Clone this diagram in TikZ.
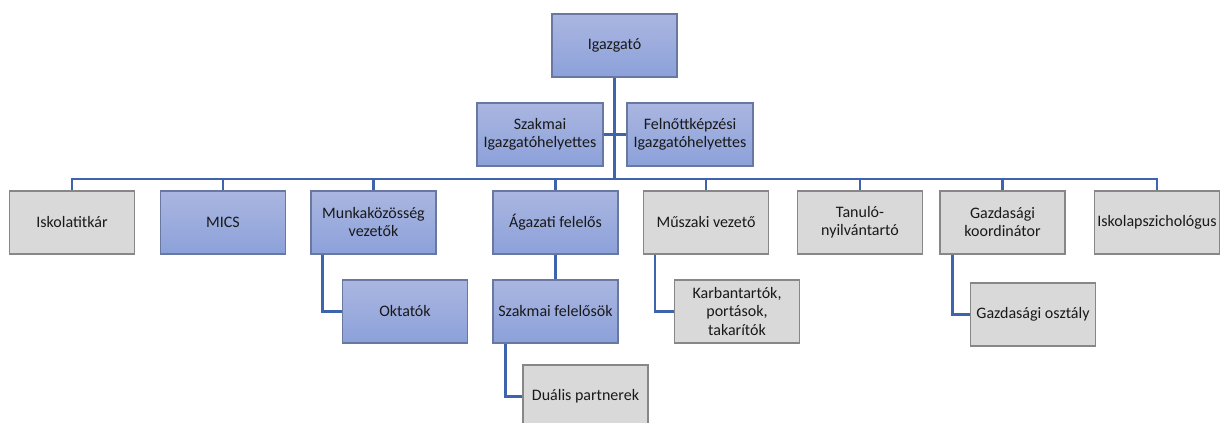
\documentclass[tikz,border=0pt]{standalone}
\usepackage{fontspec}
\setmainfont{Carlito}
\usetikzlibrary{calc}
\definecolor{bluetop}{RGB}{170,182,224}
\definecolor{bluebot}{RGB}{140,161,218}
\definecolor{blueedge}{RGB}{105,120,160}
\definecolor{grayfill}{RGB}{217,217,217}
\definecolor{grayedge}{RGB}{135,135,135}
\definecolor{conn}{RGB}{62,100,173}
\tikzset{
  box/.style={minimum width=125pt, minimum height=63pt, inner sep=1pt, align=center,
    font=\fontsize{16}{18}\selectfont, text=black!90, line width=1.2pt},
  bluebox/.style={box, top color=bluetop, bottom color=bluebot, draw=blueedge},
  graybox/.style={box, fill=grayfill, draw=grayedge},
  link/.style={draw=conn, line width=2.4pt}
}
\begin{document}
\begin{tikzpicture}[x=1pt,y=-1pt]
\useasboundingbox (0,0) rectangle (1221,423);
\clip (0,0) rectangle (1221,423);
\node[bluebox] (ig) at (614.5,45.5) {Igazgató};
\node[bluebox, minimum width=126pt] (szh) at (540,134.5) {Szakmai\\Igazgatóhelyettes};
\node[bluebox, minimum width=126pt] (fel) at (690,134.5) {Felnőttképzési\\Igazgatóhelyettes};
% row 1
\node[graybox] (isk) at (72,222.5) {Iskolatitkár};
\node[bluebox] (mics) at (223,222.5) {MICS};
\node[bluebox] (munka) at (373.5,222.5) {Munkaközösség\\vezetők};
\node[bluebox] (aga) at (555.5,222.5) {Ágazati felelős};
\node[graybox] (musz) at (706,222.5) {Műszaki vezető};
\node[graybox] (tan) at (860,222.5) {Tanuló-\\nyilvántartó};
\node[graybox] (gk) at (1002.5,222.5) {Gazdasági\\koordinátor};
\node[graybox] (psz) at (1157,222.5) {Iskolapszichológus};
% row 2
\node[bluebox] (okt) at (405,311.5) {Oktatók};
\node[bluebox] (szf) at (555.5,311.5) {Szakmai felelősök};
\node[graybox] (karb) at (737,311.5) {Karbantartók,\\portások,\\takarítók};
\node[graybox] (go) at (1033,314.5) {Gazdasági osztály};
% row 3
\node[graybox] (dual) at (585.5,396.5) {Duális partnerek};
% connectors
\coordinate (bar) at (616,179);
\draw[link] (ig.south) -- (ig.south |- bar);
\draw[link] (szh.east) -- (fel.west);
\foreach \n in {isk,mics,munka,aga,musz,tan,gk,psz}
  \draw[link] (ig.south |- bar) -| (\n.north);
\draw[link] ($(munka.south west)+(12,0)$) |- (okt.west);
\draw[link] (aga.south) -- (szf.north);
\draw[link] ($(szf.south west)+(13,0)$) |- (dual.west);
\draw[link] ($(musz.south west)+(12,0)$) |- (karb.west);
\draw[link] ($(gk.south west)+(13,0)$) |- (go.west);
\end{tikzpicture}
\end{document}
